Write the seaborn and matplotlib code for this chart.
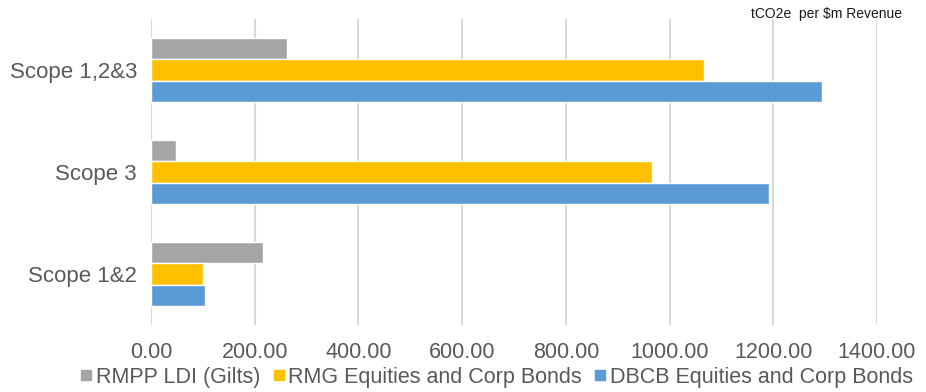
import matplotlib
matplotlib.use("Agg")
import matplotlib.pyplot as plt
import seaborn as sns
import pandas as pd
from matplotlib.lines import Line2D

categories = ["Scope 1,2&3", "Scope 3", "Scope 1&2"]
series = ["RMPP LDI (Gilts)", "RMG Equities and Corp Bonds", "DBCB Equities and Corp Bonds"]
rmpp = [263, 48, 216]
rmg = [1067, 967, 100]
dbcb = [1294, 1191, 105]
colors = ["#A5A5A5", "#FFC000", "#5B9BD5"]
xticks = [0, 200, 400, 600, 800, 1000, 1200, 1400]

rows = []
for name, vals in zip(series, [rmpp, rmg, dbcb]):
    for c, v in zip(categories, vals):
        rows.append({"Category": c, "Series": name, "Value": v})
df = pd.DataFrame(rows)

sns.set_theme(style="white")
plt.rcParams["font.family"] = ["Liberation Sans", "DejaVu Sans"]

fig = plt.figure(figsize=(9.26, 3.92), dpi=100)
W, H = 926, 392
ax = fig.add_axes([151 / W, 1 - 325 / H, (877 - 151) / W, (325 - 19) / H])

sns.barplot(data=df, y="Category", x="Value", hue="Series", order=categories,
            hue_order=series, palette=colors, orient="h", width=0.62,
            saturation=1, ax=ax, legend=False)

ax.set_xlim(0, 1400)
ax.set_ylim(2.5, -0.5)
ax.set_xticks(xticks)
ax.set_xticklabels([f"{v:.2f}" for v in xticks])
ax.set_xlabel("")
ax.set_ylabel("")
ax.grid(axis="x", color="#D9D9D9", linewidth=1.5)
ax.set_axisbelow(True)
for s in ax.spines.values():
    s.set_visible(False)
ax.tick_params(axis="x", length=0, pad=12, labelsize=15.5, labelcolor="#595959")
ax.tick_params(axis="y", length=0, pad=10, labelsize=16, labelcolor="#595959")

fig.text(902 / W, 1 - 14 / H, "tCO2e  per $m Revenue", ha="right", va="center",
         fontsize=10, color="#1a1a1a")

handles = [Line2D([0], [0], marker="s", linestyle="none", markersize=7,
                  markerfacecolor=c, markeredgecolor=c) for c in colors]
fig.legend(handles, series, loc="center", bbox_to_anchor=(497 / W, 1 - 377 / H),
           ncol=3, frameon=False, fontsize=15.5, handlelength=0.5,
           handletextpad=0.2, columnspacing=0.6, borderpad=0,
           labelcolor="#595959")

fig.savefig("out.png", dpi=100)
